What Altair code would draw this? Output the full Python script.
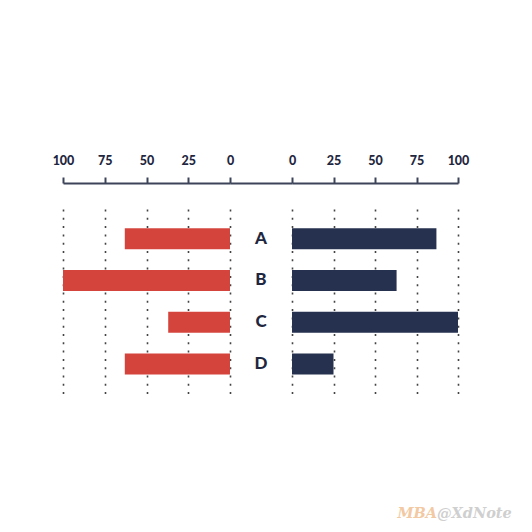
import altair as alt
import pandas as pd

categories = ["A", "B", "C", "D"]
left_values = [63, 100, 37, 63]
right_values = [87, 63, 100, 25]
tick_values = [0, 25, 50, 75, 100]

RED = "#d5443c"
NAVY = "#26304f"
DARK = "#1f2740"
AXIS = "#3d4459"

df = pd.DataFrame({"cat": categories, "left": left_values, "right": right_values})

H = 189
yscale = alt.Scale(type="band", domain=categories, paddingInner=0.5, paddingOuter=0.51, align=0.45)
yenc = alt.Y("cat:N", scale=yscale, axis=None)

def axis():
    return alt.Axis(orient="top", values=tick_values, offset=26, grid=True,
                    gridDash=[2, 6.3], gridColor="#444", gridWidth=1.6,
                    domainColor=AXIS, domainWidth=2, tickColor=AXIS, tickWidth=2,
                    tickSize=6, labelFont="Lato", labelFontWeight=900,
                    labelFontSize=12.5, labelColor=DARK, labelPadding=10, title=None,
                    labelFlush=False)

left = alt.Chart(df).mark_bar(color=RED, size=21).encode(
    x=alt.X("left:Q", scale=alt.Scale(domain=[0, 100], reverse=True), axis=axis()),
    x2=alt.datum(0),
    y=yenc,
).properties(width=167, height=H)

center = alt.Chart(df).mark_text(font="Lato", fontWeight=900, fontSize=17, color=DARK,
                                 baseline="middle").encode(
    x=alt.X("pos:Q", scale=alt.Scale(domain=[0, 1]),
            axis=alt.Axis(orient="top", offset=26, grid=False, ticks=False, labels=False,
                          domainColor=AXIS, domainWidth=2, title=None)),
    y=alt.Y("cat:N", scale=yscale, axis=None, bandPosition=0.5),
    text="cat:N",
).transform_calculate(pos="0.5").properties(width=62, height=H)

right_bars = alt.Chart(df).mark_bar(color=NAVY, size=21).encode(
    x=alt.X("right:Q", scale=alt.Scale(domain=[0, 100]), axis=axis()),
    x2=alt.datum(0),
    y=yenc,
)

wm_df = pd.DataFrame({"a": ["MBA"], "b": ["@XdNote"]})
wm1 = alt.Chart(wm_df).mark_text(font="DejaVu Serif", fontStyle="italic", fontWeight="bold",
                                 fontSize=14.5, color="#f2c9a2", align="right").encode(
    x=alt.value(145), y=alt.value(305), text="a:N")
wm2 = alt.Chart(wm_df).mark_text(font="DejaVu Serif", fontStyle="italic", fontWeight="bold",
                                 fontSize=14.5, color="#cfcfcf", align="left").encode(
    x=alt.value(145), y=alt.value(305), text="b:N")

right = alt.layer(right_bars, wm1, wm2).properties(width=166, height=H)

chart = alt.hconcat(left, center, right, spacing=0, bounds="flush").properties(
    padding={"left": 44, "top": 146, "right": 10, "bottom": 10}
).configure_view(stroke=None)

chart.save("out.html", embed_options={"renderer": "svg", "actions": False})
